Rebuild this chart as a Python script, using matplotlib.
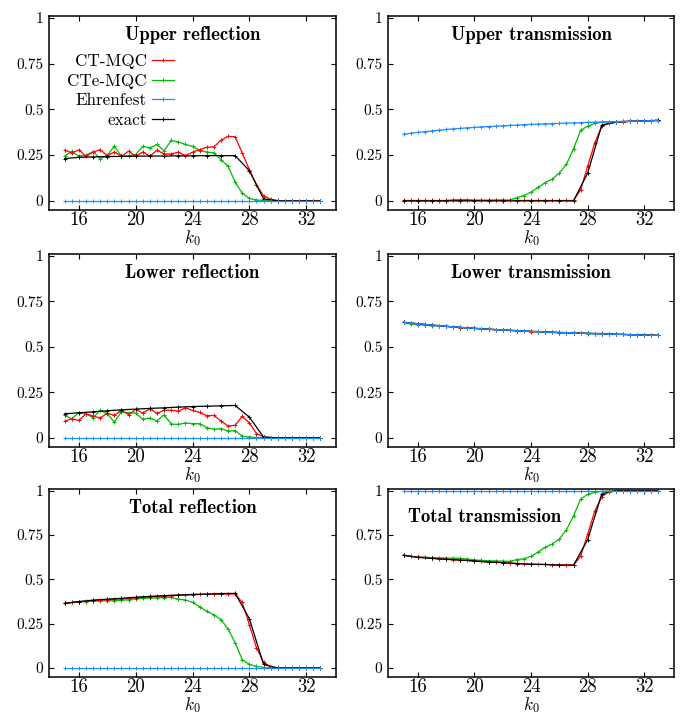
import numpy as np
import matplotlib
matplotlib.use("Agg")
import matplotlib.pyplot as plt

plt.rcParams["font.family"] = ["cmr10", "DejaVu Serif"]
plt.rcParams["mathtext.fontset"] = "cm"
plt.rcParams["axes.formatter.use_mathtext"] = True

# momentum grids: dynamics on a half-unit grid, exact results on integers
k_dyn = np.arange(15.0, 33.01, 0.5)
k_exact = np.arange(15.0, 33.01, 1.0)

xticks = [16, 20, 24, 28, 32]
yticks = [0, 0.25, 0.5, 0.75, 1]
ytick_labels = ["0", "0.25", "0.5", "0.75", "1"]

zeros6 = [0.0] * 6

# ---- upper reflection ----
ur_ct = [.277, .262, .278, .244, .266, .280, .247, .267, .244, .271, .244, .267, .244,
         .277, .256, .256, .266, .247, .266, .280, .293, .295, .330, .353, .350, .262,
         .170, .088, .027, .009, .002] + zeros6
ur_cte = [.244, .270, .244, .249, .269, .231, .249, .298, .244, .247, .253, .298, .289,
          .308, .273, .330, .322, .308, .298, .275, .267, .262, .225, .189, .103, .042,
          .013, .005, .002, .001, 0.0] + zeros6
ur_ehr = [0.0] * 37
ur_exact = [.231, .238, .240, .242, .243, .244, .245, .245, .246, .246, .247, .247, .247,
            .165, .011, 0.0, 0.0, 0.0, 0.0]

# ---- upper transmission ----
ut_ct = [.002] * 25 + [.060, .189, .317, .408, .423, .430, .433, .435, .436, .437, .438, .440]
ut_cte = [.001] * 7 + [.006, .007, .007, .004, .004, .004, .005, .005, .004,
                       .018, .029, .048, .073, .100, .119, .152, .200, .284, .385, .408,
                       .423, .430, .431, .433, .434, .435, .436, .437, .438, .440]
ut_ehr = [.364, .369, .374, .378, .382, .386, .390, .393, .396, .399, .401, .404, .406,
          .408, .410, .412, .414, .416, .418, .419, .421, .422, .423, .425, .426, .427,
          .429, .430, .431, .432, .433, .434, .435, .436, .437, .438, .439]
ut_exact = [0.0] * 13 + [.152, .415, .430, .434, .437, .440]

# ---- lower reflection ----
lr_ct = [.091, .105, .096, .132, .120, .109, .136, .123, .151, .127, .156, .136, .160,
         .134, .152, .152, .147, .165, .151, .140, .122, .123, .093, .065, .069, .118,
         .082, .024, .005, .001, 0.0] + zeros6
lr_cte = [.123, .105, .138, .132, .111, .151, .132, .087, .143, .138, .136, .102, .109,
          .093, .127, .076, .074, .082, .078, .078, .056, .047, .051, .038, .040, .009,
          .005, .002, .001, 0.0, 0.0] + zeros6
lr_ehr = [0.0] * 37
lr_exact = [.132, .138, .143, .149, .154, .158, .162, .165, .169, .172, .174, .176, .178,
            .114, .005, 0.0, 0.0, 0.0, 0.0]

# ---- lower transmission ----
lt_ct = [.634, .630, .626, .622, .619, .614, .612, .609, .606, .603, .601, .598, .596,
         .594, .592, .590, .588, .586, .584, .583, .581, .579, .578, .577, .576, .575,
         .574, .573, .574, .571, .569, .568, .567, .566, .565, .564, .563]
lt_cte = [.634, .627, .622, .620, .617, .615, .612, .609, .606, .603, .601, .598, .596,
          .594, .592, .590, .588, .586, .584, .583, .581, .579, .578, .577, .576, .574,
          .573, .572, .571, .570, .569, .568, .567, .566, .565, .564, .563]
lt_ehr = [.635, .631, .627, .623, .620, .616, .613, .610, .607, .604, .602, .599, .597,
          .595, .593, .591, .589, .587, .585, .584, .582, .580, .579, .578, .577, .575,
          .574, .573, .572, .570, .569, .568, .567, .566, .565, .564, .563]
lt_exact = [.635, .627, .620, .613, .607, .602, .597, .593, .589, .585, .582, .579, .577,
            .574, .572, .569, .567, .565, .563]

# ---- total reflection ----
tr_ct = [.364, .370, .374, .376, .380, .384, .386, .388, .391, .393, .397, .399, .402,
         .404, .406, .408, .410, .412, .414, .415, .416, .417, .418, .418, .419, .370,
         .245, .115, .033, .005, .001] + zeros6
tr_cte = [.364, .370, .374, .375, .378, .378, .380, .380, .382, .385, .390, .393, .395,
          .396, .397, .398, .388, .384, .370, .346, .319, .300, .273, .220, .142, .047,
          .020, .009, .003, .001, 0.0] + zeros6
tr_ehr = [0.0] * 37
tr_exact = [.364, .375, .383, .388, .393, .399, .404, .408, .412, .415, .417, .420, .421,
            .279, .020, 0.0, 0.0, 0.0, 0.0]

# ---- total transmission ----
tt_ct = [.636, .630, .626, .624, .620, .616, .614, .612, .609, .607, .603, .601, .598,
         .596, .594, .592, .590, .588, .586, .585, .584, .583, .582, .582, .581, .630,
         .755, .885, .967, .995, .999] + [1.0] * 6
tt_cte = [.636, .630, .626, .625, .622, .622, .620, .620, .618, .615, .610, .607, .605,
          .604, .603, .602, .612, .616, .630, .654, .681, .700, .727, .780, .858, .953,
          .980, .991, .997, .999, 1.0] + [1.0] * 6
tt_ehr = [1.0] * 37
tt_exact = [.636, .624, .618, .613, .609, .604, .598, .595, .589, .585, .584, .580, .580,
            .724, .984, 1.0, 1.0, 1.0, 1.0]

panels = [
    ("Upper reflection", ur_ct, ur_cte, ur_ehr, ur_exact),
    ("Upper transmission", ut_ct, ut_cte, ut_ehr, ut_exact),
    ("Lower reflection", lr_ct, lr_cte, lr_ehr, lr_exact),
    ("Lower transmission", lt_ct, lt_cte, lt_ehr, lt_exact),
    ("Total reflection", tr_ct, tr_cte, tr_ehr, tr_exact),
    ("Total transmission", tt_ct, tt_cte, tt_ehr, tt_exact),
]

C_CT = "#ff0000"
C_CTE = "#00bb00"
C_EHR = "#1e8cff"
C_EX = "#000000"

fig = plt.figure(figsize=(6.81, 7.17), dpi=100)

col_left = [0.0720, 0.5698]
col_width = [0.4214, 0.4200]
row_bottom = [0.7071, 0.3766, 0.0560]
row_height = [0.2706, 0.2692, 0.2620]

line_kw = dict(lw=0.9, marker="+", ms=2.6, mew=0.7)

for i, (title, ct, cte, ehr, ex) in enumerate(panels):
    r, c = divmod(i, 2)
    ax = fig.add_axes([col_left[c], row_bottom[r], col_width[c], row_height[r]])
    ax.plot(k_dyn, cte, color=C_CTE, label="CTe-MQC", **line_kw)
    ax.plot(k_dyn, ct, color=C_CT, label="CT-MQC", **line_kw)
    ax.plot(k_exact, ex, color=C_EX, label="exact", **line_kw)
    ax.plot(k_dyn, ehr, color=C_EHR, label="Ehrenfest", **line_kw)

    ax.set_xlim(13.9, 34.1)
    ax.set_ylim(-0.05, 1.01)
    ax.set_xticks(xticks)
    ax.set_xticklabels([str(t) for t in xticks], fontsize=13.5)
    ax.set_yticks(yticks)
    ax.set_yticklabels(ytick_labels, fontsize=11)
    ax.tick_params(direction="in", length=3.5, width=0.8, top=True, right=True)
    ax.tick_params(axis="x", pad=1.0)
    ax.tick_params(axis="y", pad=4)
    for s in ax.spines.values():
        s.set_linewidth(1.1)
    ax.set_xlabel(r"$k_0$", fontsize=12.5, labelpad=-1)

    if title == "Total transmission":
        ax.text(0.338, 0.85, title, transform=ax.transAxes, ha="center", va="center",
                fontsize=13.5, family="cmb10")
    else:
        ax.text(0.5, 0.90, title, transform=ax.transAxes, ha="center", va="center",
                fontsize=13.5, family="cmb10")

    if i == 0:
        h, l = ax.get_legend_handles_labels()
        order = [l.index(n) for n in ["CT-MQC", "CTe-MQC", "Ehrenfest", "exact"]]
        ax.legend([h[j] for j in order], [l[j] for j in order], loc="upper right",
                  bbox_to_anchor=(0.4355, 0.805), frameon=False, markerfirst=False,
                  fontsize=12.3, handlelength=1.3, handletextpad=0.3, borderpad=0,
                  borderaxespad=0, labelspacing=0.25)

fig.savefig("out.png", dpi=100)
